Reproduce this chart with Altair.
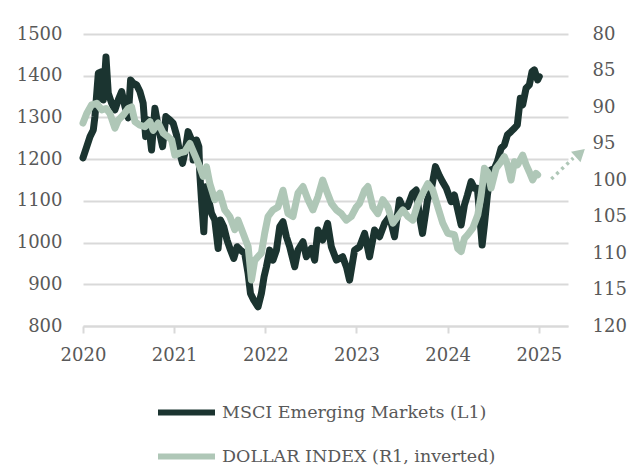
import altair as alt
import pandas as pd

# ---- data ----
msci_year = [
    2020.000, 2020.041, 2020.077, 2020.113, 2020.131, 2020.168, 2020.205, 2020.222, 2020.252, 2020.277,
    2020.314, 2020.350, 2020.387, 2020.424, 2020.460, 2020.496, 2020.522, 2020.551, 2020.588, 2020.624,
    2020.660, 2020.687, 2020.715, 2020.752, 2020.789, 2020.825, 2020.873, 2020.909, 2020.953, 2020.989,
    2021.026, 2021.062, 2021.092, 2021.117, 2021.153, 2021.191, 2021.208, 2021.245, 2021.271, 2021.281,
    2021.300, 2021.325, 2021.347, 2021.380, 2021.410, 2021.446, 2021.482, 2021.508, 2021.544, 2021.580,
    2021.618, 2021.654, 2021.690, 2021.727, 2021.774, 2021.811, 2021.837, 2021.873, 2021.920, 2021.957,
    2021.986, 2022.012, 2022.048, 2022.084, 2022.122, 2022.158, 2022.194, 2022.231, 2022.267, 2022.322,
    2022.358, 2022.413, 2022.450, 2022.505, 2022.541, 2022.577, 2022.629, 2022.683, 2022.724, 2022.779,
    2022.848, 2022.892, 2022.924, 2022.979, 2023.034, 2023.089, 2023.143, 2023.198, 2023.253, 2023.308,
    2023.363, 2023.417, 2023.472, 2023.505, 2023.560, 2023.614, 2023.655, 2023.691, 2023.724, 2023.779,
    2023.819, 2023.866, 2023.910, 2023.943, 2023.984, 2024.038, 2024.074, 2024.107, 2024.148, 2024.184,
    2024.217, 2024.257, 2024.294, 2024.326, 2024.348, 2024.378, 2024.403, 2024.436, 2024.476, 2024.513,
    2024.545, 2024.586, 2024.622, 2024.655, 2024.695, 2024.732, 2024.764, 2024.797, 2024.823, 2024.860,
    2024.896, 2024.926, 2024.951, 2024.987, 2025.005,
]
msci_value = [
    1203, 1230, 1254, 1270, 1302, 1406, 1410, 1342, 1445, 1358,
    1334, 1318, 1342, 1362, 1326, 1299, 1390, 1382, 1378, 1362,
    1334, 1254, 1294, 1222, 1322, 1278, 1230, 1302, 1294, 1286,
    1258, 1214, 1190, 1215, 1266, 1246, 1198, 1246, 1230, 1166,
    1102, 1026, 1134, 1102, 1070, 1054, 986, 1054, 1038, 1006,
    982, 962, 990, 982, 974, 926, 878, 862, 846, 878,
    918, 942, 982, 958, 982, 1038, 1050, 1014, 990, 942,
    982, 1002, 966, 986, 958, 1030, 1006, 1046, 990, 958,
    966, 940, 910, 982, 990, 1022, 966, 1030, 1014, 1046,
    1062, 1014, 1102, 1086, 1086, 1118, 1126, 1062, 1022, 1102,
    1126, 1182, 1160, 1146, 1131, 1098, 1114, 1082, 1042, 1090,
    1114, 1146, 1130, 1130, 1074, 994, 1042, 1114, 1174, 1178,
    1194, 1226, 1234, 1258, 1266, 1274, 1282, 1346, 1330, 1370,
    1378, 1410, 1414, 1390, 1398,
]

dxy_year = [
    2020.000, 2020.041, 2020.095, 2020.150, 2020.205, 2020.252, 2020.296, 2020.350, 2020.387, 2020.441,
    2020.496, 2020.533, 2020.570, 2020.624, 2020.679, 2020.734, 2020.770, 2020.825, 2020.880, 2020.934,
    2020.972, 2021.008, 2021.062, 2021.117, 2021.172, 2021.227, 2021.281, 2021.318, 2021.355, 2021.391,
    2021.446, 2021.501, 2021.555, 2021.610, 2021.665, 2021.701, 2021.756, 2021.811, 2021.848, 2021.884,
    2021.920, 2021.957, 2021.993, 2022.030, 2022.084, 2022.139, 2022.194, 2022.249, 2022.303, 2022.358,
    2022.413, 2022.468, 2022.522, 2022.577, 2022.629, 2022.669, 2022.724, 2022.779, 2022.833, 2022.888,
    2022.943, 2022.998, 2023.034, 2023.089, 2023.125, 2023.180, 2023.234, 2023.289, 2023.344, 2023.399,
    2023.453, 2023.508, 2023.563, 2023.618, 2023.673, 2023.727, 2023.782, 2023.837, 2023.892, 2023.946,
    2024.001, 2024.074, 2024.111, 2024.148, 2024.184, 2024.220, 2024.275, 2024.330, 2024.367, 2024.403,
    2024.439, 2024.476, 2024.531, 2024.586, 2024.622, 2024.656, 2024.695, 2024.732, 2024.768, 2024.823,
    2024.860, 2024.896, 2024.932, 2024.969, 2024.987,
]
dxy_value = [
    92.2, 90.9, 89.7, 89.5, 90.4, 90.2, 90.9, 92.9, 91.8, 91.1,
    90.2, 90.0, 92.0, 92.5, 92.7, 92.0, 93.2, 92.2, 93.6, 94.1,
    94.5, 96.6, 96.3, 96.1, 95.0, 96.6, 98.2, 99.5, 98.2, 100.5,
    102.7, 101.8, 104.1, 105.0, 106.8, 105.5, 107.3, 109.1, 113.7, 111.0,
    110.5, 110.0, 107.3, 105.0, 104.1, 103.7, 101.4, 104.6, 105.0, 101.8,
    100.9, 102.7, 104.1, 102.3, 100.0, 101.4, 103.2, 104.1, 104.6, 105.5,
    105.0, 103.7, 103.2, 101.4, 100.9, 103.7, 104.6, 102.7, 103.7, 105.9,
    105.0, 104.1, 105.0, 105.5, 103.2, 101.8, 100.5, 101.4, 103.7, 105.9,
    107.3, 107.5, 109.4, 109.8, 108.0, 107.5, 106.6, 104.8, 102.1, 98.4,
    98.9, 101.1, 98.4, 97.5, 96.8, 97.9, 100.0, 97.5, 97.9, 96.6,
    97.9, 98.9, 100.0, 99.1, 99.3,
]

arrow_year = [2025.137, 2025.378]
arrow_value = [99.86, 97.0]
head_year = [2025.455]
head_value = [96.3]

series_names = ["MSCI Emerging Markets (L1)", "DOLLAR INDEX (R1, inverted)"]
series_colors = ["#1b3430", "#afc7b7"]
x_ticks = [2020, 2021, 2022, 2023, 2024, 2025]
left_ticks = [800, 900, 1000, 1100, 1200, 1300, 1400, 1500]
right_ticks = [80, 85, 90, 95, 100, 105, 110, 115, 120]

df_msci = pd.DataFrame({"year": msci_year, "value": msci_value, "series": series_names[0]})
df_dxy = pd.DataFrame({"year": dxy_year, "value": dxy_value, "series": series_names[1]})
df_arrow = pd.DataFrame({"year": arrow_year, "value": arrow_value})
df_head = pd.DataFrame({"year": head_year, "value": head_value})

FONT = "DejaVu Serif"
LABEL_COLOR = "#595959"
GRID = "#d9d9d9"

x_enc = alt.X(
    "year:Q",
    scale=alt.Scale(domain=[2020, 2025.32], nice=False, zero=False),
    axis=alt.Axis(
        values=x_ticks, format="d", title=None, grid=False, labelFlush=False,
        domainColor=GRID, domainWidth=2, tickColor=GRID, tickWidth=2, tickSize=7,
        labelFont=FONT, labelFontSize=18, labelColor=LABEL_COLOR, labelPadding=13,
    ),
)

color_enc = alt.Color(
    "series:N",
    scale=alt.Scale(domain=series_names, range=series_colors),
    legend=alt.Legend(
        title=None, orient="none", legendX=72, legendY=347, direction="vertical",
        symbolType="stroke", symbolStrokeWidth=6, symbolSize=3249,
        labelFont=FONT, labelFontSize=17.5, labelColor=LABEL_COLOR,
        labelOffset=4, rowPadding=-12, labelLimit=400,
    ),
)

msci = alt.Chart(df_msci).mark_line(strokeWidth=7, strokeCap="round", strokeJoin="round").encode(
    x=x_enc,
    y=alt.Y(
        "value:Q",
        scale=alt.Scale(domain=[800, 1500], nice=False, zero=False),
        axis=alt.Axis(
            values=left_ticks, format="d", orient="left", title=None, grid=True, gridColor=GRID,
            gridWidth=2, domain=False, ticks=False, labelFont=FONT, labelFontSize=18,
            labelColor=LABEL_COLOR, labelPadding=21, labelOverlap=False,
        ),
    ),
    color=color_enc,
)

y_dxy = alt.Y(
    "value:Q",
    scale=alt.Scale(domain=[80, 120], nice=False, zero=False, reverse=True),
    axis=alt.Axis(
        values=right_ticks, format="d", orient="right", title=None, grid=False,
        domain=False, ticks=False, labelFont=FONT, labelFontSize=18, labelColor=LABEL_COLOR,
        labelPadding=24, labelOverlap=False, labelFlush=False,
    ),
)

dxy = alt.Chart(df_dxy).mark_line(strokeWidth=7, strokeCap="round", strokeJoin="round").encode(
    x=x_enc,
    y=y_dxy,
    color=color_enc,
)

arrow = alt.Chart(df_arrow).mark_line(
    color=series_colors[1], strokeWidth=3.5, strokeDash=[3, 4]
).encode(
    x=x_enc,
    y=y_dxy,
)

head = alt.Chart(df_head).mark_point(
    shape="triangle-up", filled=True, color=series_colors[1], size=200, angle=48, opacity=1
).encode(
    x=x_enc,
    y=y_dxy,
)

chart = alt.layer(msci, alt.layer(dxy, arrow, head)).resolve_scale(y="independent").properties(
    width=485, height=292,
    autosize=alt.AutoSizeParams(type="none"),
    padding={"left": 75, "top": 26, "right": 64, "bottom": 145},
).configure_view(stroke=None)

chart.save("out.html", embed_options={"renderer": "svg", "actions": False})
